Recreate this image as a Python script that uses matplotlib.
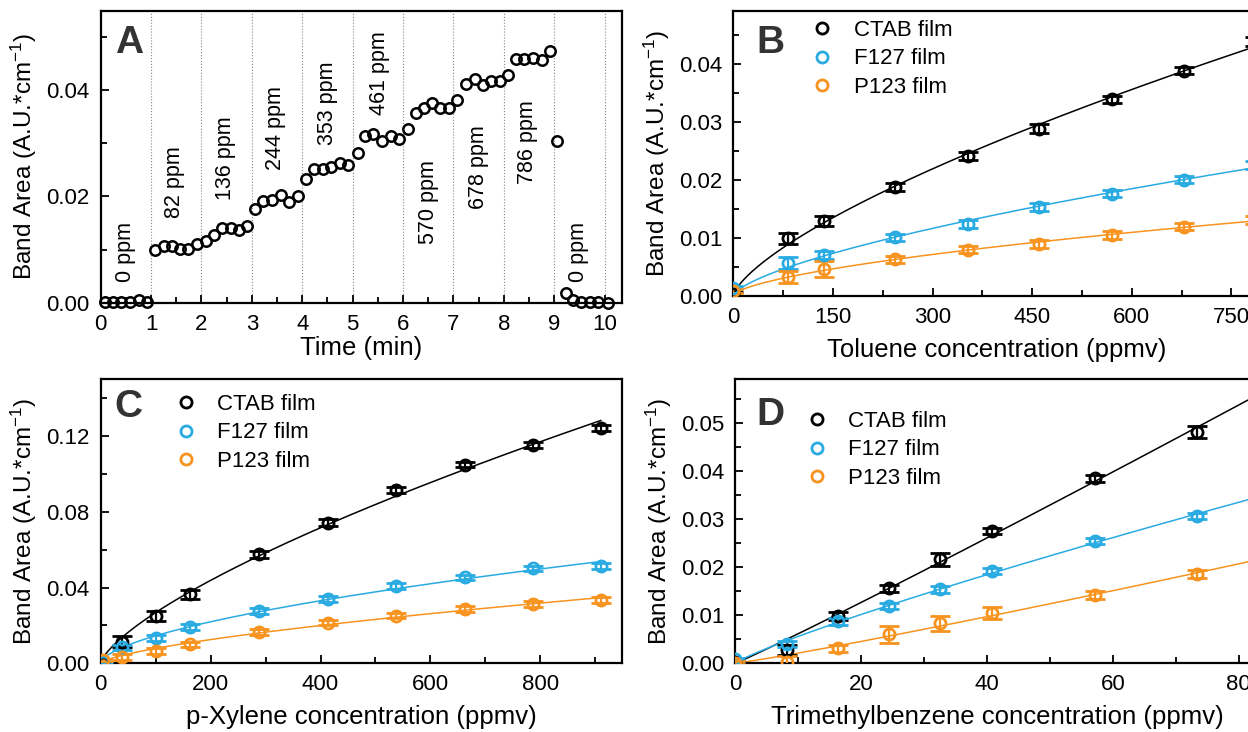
import numpy as np
import matplotlib
matplotlib.use('Agg')
import matplotlib.pyplot as plt
from matplotlib.lines import Line2D
from matplotlib.ticker import MultipleLocator, FormatStrFormatter

plt.rcParams['font.family'] = ['Liberation Sans', 'DejaVu Sans']
plt.rcParams['mathtext.fontset'] = 'custom'
plt.rcParams['mathtext.rm'] = 'Liberation Sans'
plt.rcParams['mathtext.it'] = 'Liberation Sans:italic'

# ---- data ----
# panel A: band area vs time while toluene is stepped up
time_min = [0.09, 0.25, 0.40, 0.58, 0.76, 0.92,
            1.08, 1.26, 1.42, 1.58, 1.74, 1.91,
            2.09, 2.24, 2.41, 2.58, 2.74, 2.91,
            3.07, 3.23, 3.40, 3.57, 3.73, 3.91,
            4.08, 4.24, 4.41, 4.57, 4.74, 4.90,
            5.10, 5.25, 5.41, 5.59, 5.76, 5.93,
            6.09, 6.25, 6.41, 6.58, 6.74, 6.91,
            7.08, 7.25, 7.42, 7.58, 7.75, 7.92,
            8.09, 8.24, 8.40, 8.57, 8.75, 8.91,
            9.06, 9.23, 9.38, 9.54, 9.71, 9.87, 10.07]
band_area = [0.0002, 0.0002, 0.0002, 0.0001, 0.0006, 0.0002,
             0.0099, 0.0106, 0.0107, 0.0101, 0.0101, 0.0110,
             0.0117, 0.0128, 0.0140, 0.0140, 0.0137, 0.0145,
             0.0176, 0.0191, 0.0194, 0.0202, 0.0189, 0.0200,
             0.0233, 0.0252, 0.0252, 0.0255, 0.0262, 0.0259,
             0.0281, 0.0313, 0.0318, 0.0304, 0.0313, 0.0308,
             0.0327, 0.0357, 0.0367, 0.0375, 0.0367, 0.0367,
             0.0381, 0.0412, 0.0421, 0.0409, 0.0418, 0.0417,
             0.0428, 0.0458, 0.0458, 0.0461, 0.0456, 0.0474,
             0.0304, 0.0018, 0.0006, 0.0002, 0.0002, 0.0002, 0.0000]
step_labels = ['0 ppm', '82 ppm', '136 ppm', '244 ppm', '353 ppm',
               '461 ppm', '570 ppm', '678 ppm', '786 ppm', '0 ppm']
label_x = [0.49, 1.47, 2.47, 3.46, 4.50, 5.53, 6.50, 7.49, 8.47, 9.49]
label_y = [0.0095, 0.0227, 0.0272, 0.0329, 0.0375, 0.0433, 0.0189, 0.0255, 0.0302, 0.0095]

films = ['CTAB film', 'F127 film', 'P123 film']
colors = ['black', '#29abe2', '#f7931e']

# panel B: toluene
tol_x = [0, 82, 136, 244, 353, 461, 570, 678, 786]
tol_y = [[0.0003, 0.0099, 0.0129, 0.0187, 0.0241, 0.0288, 0.0339, 0.0388, 0.0438],
         [0.0014, 0.0056, 0.0070, 0.0101, 0.0123, 0.0153, 0.0176, 0.0200, 0.0226],
         [0.0008, 0.0032, 0.0046, 0.0063, 0.0079, 0.0089, 0.0104, 0.0119, 0.0131]]
tol_err = [[0.0003, 0.0009, 0.0009, 0.0007, 0.0007, 0.0008, 0.0006, 0.0006, 0.0008],
           [0.0003, 0.0010, 0.0007, 0.0006, 0.0007, 0.0007, 0.0006, 0.0006, 0.0007],
           [0.0003, 0.0010, 0.0013, 0.0006, 0.0006, 0.0007, 0.0007, 0.0006, 0.0007]]

# panel C: p-xylene
xyl_x = [5, 38, 100, 163, 288, 413, 538, 662, 786, 910]
xyl_y = [[0.0003, 0.0114, 0.0250, 0.0364, 0.0575, 0.0743, 0.0915, 0.1050, 0.1153, 0.1244],
         [0.0005, 0.0084, 0.0135, 0.0190, 0.0276, 0.0340, 0.0408, 0.0454, 0.0501, 0.0514],
         [0.0015, 0.0035, 0.0065, 0.0100, 0.0167, 0.0215, 0.0252, 0.0287, 0.0313, 0.0334]]
xyl_err = [[0.0005, 0.0030, 0.0025, 0.0022, 0.0018, 0.0018, 0.0018, 0.0015, 0.0018, 0.0015],
           [0.0005, 0.0015, 0.0015, 0.0015, 0.0015, 0.0015, 0.0015, 0.0015, 0.0015, 0.0015],
           [0.0005, 0.0015, 0.0015, 0.0015, 0.0015, 0.0015, 0.0015, 0.0015, 0.0015, 0.0015]]

# panel D: trimethylbenzene
tmb_x = [0, 8.2, 16.3, 24.5, 32.6, 40.8, 57.1, 73.4]
tmb_y = [[0.0003, 0.0028, 0.0098, 0.0156, 0.0216, 0.0275, 0.0384, 0.0481],
         [0.0008, 0.0040, 0.0087, 0.0119, 0.0154, 0.0192, 0.0254, 0.0306],
         [0.0001, 0.0003, 0.0031, 0.0060, 0.0083, 0.0104, 0.0142, 0.0185]]
tmb_err = [[0.0003, 0.0010, 0.0008, 0.0007, 0.0014, 0.0007, 0.0007, 0.0012],
           [0.0003, 0.0007, 0.0007, 0.0007, 0.0007, 0.0007, 0.0007, 0.0007],
           [0.0003, 0.0012, 0.0008, 0.0017, 0.0015, 0.0012, 0.0008, 0.0008]]


def power_fit(x, y):
    # least squares y = a*x^b, scanning b
    x = np.asarray(x, float)
    y = np.asarray(y, float)
    m = x > 0
    x, y = x[m], y[m]
    best = (np.inf, 0, 1)
    for b in np.linspace(0.3, 1.6, 1301):
        xb = x ** b
        a = (y * xb).sum() / (xb * xb).sum()
        sse = ((y - a * xb) ** 2).sum()
        if sse < best[0]:
            best = (sse, a, b)
    return best[1], best[2]


W, H = 1248, 732
fig = plt.figure(figsize=(W / 100, H / 100), dpi=100)


def px_axes(l, t, r, b):
    return fig.add_axes([l / W, 1 - b / H, (r - l) / W, (b - t) / H])


def style(ax):
    for s in ax.spines.values():
        s.set_linewidth(1.6)
    ax.tick_params(which='both', direction='in', width=1.3, labelsize=16, pad=8)
    ax.tick_params(which='major', length=6)
    ax.tick_params(which='minor', length=4)
    ax.set_ylabel('Band Area (A.U.*cm$^{-1}$)', fontsize=17.5, labelpad=5)


def letter(x, y, s):
    fig.text(x / W, 1 - y / H, s, fontsize=28, fontweight='bold',
             color='#333333', ha='left', va='baseline')


def film_panel(ax, xs, ys, errs, xmax_fit, lx, ly):
    xs = np.asarray(xs, float)
    handles = []
    for y, e, c, name in zip(ys, errs, colors, films):
        a, b = power_fit(xs, y)
        xf = np.linspace(0, xmax_fit, 400)
        ax.plot(xf, a * xf ** b, color=c, lw=1.1, zorder=2)
        ax.errorbar(xs, y, yerr=e, fmt='o', ms=8, mfc='none', mec=c, mew=2,
                    ecolor=c, elinewidth=1.6, capsize=7, capthick=1.8, zorder=3)
        handles.append(Line2D([], [], ls='none', marker='o', ms=8, mfc='none',
                              mec=c, mew=2, label=name))
    fs = 16 / 72 * 100
    ax.legend(handles=handles, loc='upper left', frameon=False, fontsize=16,
              handlelength=1.0, handletextpad=0.92, labelspacing=0.33,
              borderpad=0, borderaxespad=0,
              bbox_to_anchor=((lx - fs / 2) / W, 1 - (ly - 9) / H),
              bbox_transform=fig.transFigure)


# ---- panel A ----
axA = px_axes(100.7, 11, 621.7, 302.7)
style(axA)
for k in range(1, 11):
    axA.axvline(k, color='#888888', lw=0.8, ls=':', zorder=1)
axA.plot(time_min, band_area, 'o', ms=7.5, mfc='none', mec='black', mew=1.8,
         zorder=3, clip_on=False)
for s, x, y in zip(step_labels, label_x, label_y):
    axA.text(x, y, s, rotation=90, fontsize=15.5, ha='center', va='center')
axA.set_xlim(0, 10.34)
axA.set_ylim(0, 0.0549)
axA.xaxis.set_major_locator(MultipleLocator(1))
axA.xaxis.set_minor_locator(MultipleLocator(0.5))
axA.yaxis.set_major_locator(MultipleLocator(0.02))
axA.yaxis.set_minor_locator(MultipleLocator(0.01))
axA.yaxis.set_major_formatter(FormatStrFormatter('%.2f'))
axA.set_xlabel('Time (min)', fontsize=18.5, labelpad=1)
letter(115, 52.7, 'A')

# ---- panel B ----
axB = px_axes(733.3, 11, 1260, 295.7)
style(axB)
film_panel(axB, tol_x, tol_y, tol_err, 800, 822, 29)
axB.set_xlim(0, 793)
axB.set_ylim(0, 0.0491)
axB.xaxis.set_major_locator(MultipleLocator(150))
axB.xaxis.set_minor_locator(MultipleLocator(75))
axB.yaxis.set_major_locator(MultipleLocator(0.01))
axB.yaxis.set_minor_locator(MultipleLocator(0.005))
axB.yaxis.set_major_formatter(FormatStrFormatter('%.2f'))
axB.set_xlabel('Toluene concentration (ppmv)', fontsize=18.5, labelpad=7)
letter(756, 52.7, 'B')

# ---- panel C ----
axC = px_axes(100.7, 379.3, 621.7, 663.3)
style(axC)
film_panel(axC, xyl_x, xyl_y, xyl_err, 910, 185.5, 403)
axC.set_xlim(0, 948)
axC.set_ylim(0, 0.150)
axC.xaxis.set_major_locator(MultipleLocator(200))
axC.xaxis.set_minor_locator(MultipleLocator(100))
axC.yaxis.set_major_locator(MultipleLocator(0.04))
axC.yaxis.set_minor_locator(MultipleLocator(0.02))
axC.yaxis.set_major_formatter(FormatStrFormatter('%.2f'))
axC.set_xlabel('p-Xylene concentration (ppmv)', fontsize=18.5, labelpad=7)
letter(114, 417, 'C')

# ---- panel D ----
axD = px_axes(735.2, 379.3, 1260, 663.3)
style(axD)
film_panel(axD, tmb_x, tmb_y, tmb_err, 85, 816.7, 420)
axD.set_xlim(0, 83.4)
axD.set_ylim(0, 0.059)
axD.xaxis.set_major_locator(MultipleLocator(20))
axD.xaxis.set_minor_locator(MultipleLocator(10))
axD.yaxis.set_major_locator(MultipleLocator(0.01))
axD.yaxis.set_minor_locator(MultipleLocator(0.005))
axD.yaxis.set_major_formatter(FormatStrFormatter('%.2f'))
axD.set_xlabel('Trimethylbenzene concentration (ppmv)', fontsize=18.5, labelpad=7)
letter(756, 425, 'D')

fig.savefig('out.png', dpi=100)
